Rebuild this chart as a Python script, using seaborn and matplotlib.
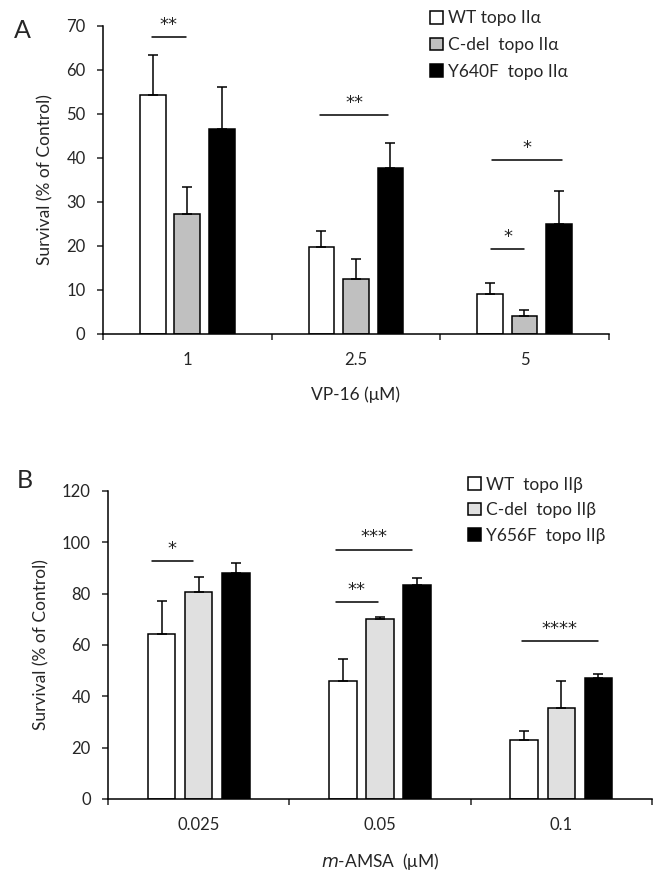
import numpy as np
import pandas as pd
import seaborn as sns
import matplotlib
matplotlib.use("Agg")
import matplotlib.pyplot as plt
from matplotlib.patches import Patch

sns.set_style("white")
plt.rcParams['font.family'] = ['Lato', 'DejaVu Sans']

# ---------------- data ----------------
cats_a = ["1", "2.5", "5"]
groups_a = ["WT topo IIα", "C-del  topo IIα", "Y640F  topo IIα"]
wt_a = [54.3, 19.7, 9.0]
cdel_a = [27.3, 12.4, 4.1]
y640_a = [46.6, 37.8, 25.1]
wt_a_err = [9.2, 3.8, 2.6]
cdel_a_err = [6.2, 4.6, 1.4]
y640_a_err = [9.6, 5.7, 7.3]

cats_b = ["0.025", "0.05", "0.1"]
groups_b = ["WT  topo IIβ", "C-del  topo IIβ", "Y656F  topo IIβ"]
wt_b = [64.4, 46.0, 23.0]
cdel_b = [80.6, 70.1, 35.6]
y656_b = [87.9, 83.4, 47.3]
wt_b_err = [12.9, 8.4, 3.4]
cdel_b_err = [6.0, 0.8, 10.4]
y656_b_err = [3.9, 2.6, 1.3]

# significance: (category index, x offset start, x offset end, y, label)
sig_a = [(0, -0.21, -0.01, 67.4, "**"), (1, -0.21, 0.19, 49.8, "**"),
         (2, -0.19, 0.22, 39.5, "*"), (2, -0.20, 0.0, 19.4, "*")]
sig_b = [(0, -0.26, -0.03, 92.6, "*"), (1, -0.245, 0.177, 97.2, "***"),
         (1, -0.245, -0.012, 76.9, "**"), (2, -0.217, 0.20, 61.6, "****")]

colors_a = ["white", "#c0c0c0", "black"]
colors_b = ["white", "#e0e0e0", "black"]

fig = plt.figure(figsize=(6.61, 8.81), dpi=100)
axA = fig.add_axes([0.1558, 0.6209, 0.7652, 0.3496])
axB = fig.add_axes([0.1634, 0.0931, 0.8230, 0.3496])

FS = 12


def panel(ax, cats, groups, vals, errs, colors, ymax, ystep, sig, xlabel, letter,
          letter_pos, legend_pos, lspace):
    rows = []
    for g, v in zip(groups, vals):
        for c, val in zip(cats, v):
            rows.append({"cat": c, "grp": g, "val": val})
    df = pd.DataFrame(rows)
    sns.barplot(data=df, x="cat", y="val", hue="grp", order=cats, hue_order=groups,
                palette=colors, ax=ax, width=0.614, edgecolor="black", linewidth=1.1,
                errorbar=None, legend=False, saturation=1)
    bw = 0.152
    for cont, e in zip(ax.containers, errs):
        for patch, err in zip(cont.patches, e):
            cx = patch.get_x() + patch.get_width() / 2
            patch.set_x(cx - bw / 2)
            patch.set_width(bw)
            h = patch.get_height()
            ax.errorbar([cx], [h], yerr=[[0], [err]], fmt="none", ecolor="black",
                        elinewidth=1.1, capsize=3.3, capthick=1.1, zorder=1)
    for ci, x0, x1, y, lab in sig:
        ax.plot([ci + x0, ci + x1], [y, y], color="black", lw=1.1)
        ax.text(ci + (x0 + x1) / 2, y + ymax * 0.01, lab, ha="center", va="bottom",
                fontsize=13, color="#222222", family="DejaVu Sans")
    ax.set_xlim(-0.5, 2.5)
    ax.set_ylim(0, ymax)
    ax.set_yticks(np.arange(0, ymax + 1, ystep))
    ax.set_xticks([-0.5, 0.5, 1.5, 2.5])
    ax.set_xticklabels([])
    ax.set_xticks([0, 1, 2], minor=True)
    ax.set_xticklabels(cats, minor=True)
    ax.tick_params(axis="x", which="major", length=4.5, direction="out", width=1.1, bottom=True)
    ax.tick_params(axis="x", which="minor", length=0, pad=13, labelsize=FS)
    ax.tick_params(axis="y", length=4.5, direction="out", width=1.1, left=True, labelsize=FS, pad=8)
    sns.despine(ax=ax)
    for s in ["left", "bottom"]:
        ax.spines[s].set_color("black")
        ax.spines[s].set_linewidth(1.1)
    ax.set_xlabel(xlabel, fontsize=FS + 0.5, labelpad=13)
    ax.set_ylabel("Survival (% of Control)", fontsize=FS + 0.5, labelpad=9)
    handles = [Patch(facecolor=c, edgecolor="black", linewidth=1.1) for c in colors]
    ax.legend(handles, groups, loc="center left", bbox_to_anchor=legend_pos, frameon=False,
              fontsize=FS + 0.5, handlelength=0.75, handleheight=0.75, handletextpad=0.3,
              labelspacing=lspace, borderaxespad=0, borderpad=0)
    ax.text(letter_pos[0], letter_pos[1], letter, transform=ax.transAxes, fontsize=18,
            ha="left", va="center")


panel(axA, cats_a, groups_a, [wt_a, cdel_a, y640_a], [wt_a_err, cdel_a_err, y640_a_err],
      colors_a, 70, 10, sig_a, "VP-16 (μM)", "A", (-0.176, 0.985), (0.646, 0.938), 0.62)
panel(axB, cats_b, groups_b, [wt_b, cdel_b, y656_b], [wt_b_err, cdel_b_err, y656_b_err],
      colors_b, 120, 20, sig_b, "$\\it{m}$-AMSA  (μM)", "B", (-0.167, 1.034), (0.662, 0.938), 0.55)

fig.savefig("out.png", dpi=100)
